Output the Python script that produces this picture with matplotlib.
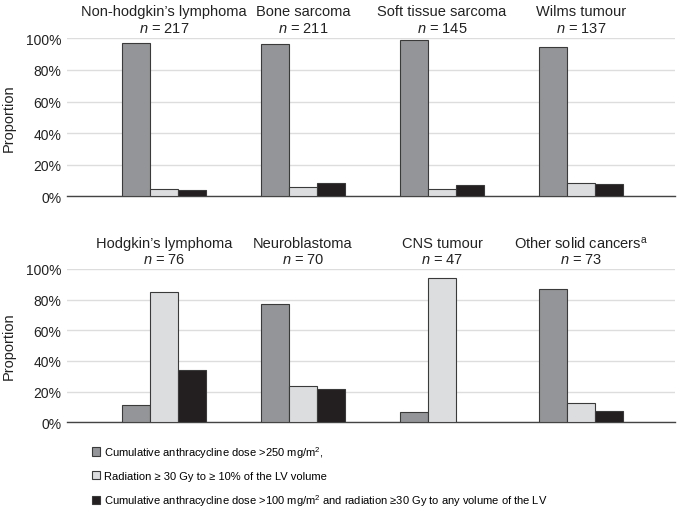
import numpy as np
import matplotlib.pyplot as plt
from matplotlib.patches import Patch

plt.rcParams['font.family'] = ['Liberation Sans', 'DejaVu Sans']
plt.rcParams['mathtext.fontset'] = 'custom'
plt.rcParams['mathtext.rm'] = 'Liberation Sans'
plt.rcParams['mathtext.it'] = 'Liberation Sans:italic'

## data (proportions in %)
top_groups = ["Non-hodgkin\u2019s lymphoma", "Bone sarcoma", "Soft tissue sarcoma", "Wilms tumour"]
top_n = [217, 211, 145, 137]
top_anthra = [97.0, 96.4, 98.9, 94.7]
top_rad = [4.4, 5.7, 4.4, 8.4]
top_both = [3.8, 8.4, 7.2, 7.8]

bot_groups = ["Hodgkin\u2019s lymphoma", "Neuroblastoma", "CNS tumour", "Other solid cancers$^{\\mathrm{a}}$"]
bot_n = [76, 70, 47, 73]
bot_anthra = [11.5, 77.4, 6.5, 86.7]
bot_rad = [84.8, 23.5, 93.9, 12.4]
bot_both = [34.3, 21.5, 0.0, 7.2]

legend_labels = [
    "Cumulative anthracycline dose >250 mg/m$^{2}$,",
    "Radiation \u2265 30 Gy to \u2265 10% of the LV volume",
    "Cumulative anthracycline dose >100 mg/m$^{2}$ and radiation \u226530 Gy to any volume of the LV",
]

colors = ["#939598", "#dcdddf", "#231f20"]
edge = "#3a3a3a"

fig = plt.figure(figsize=(6.78, 5.10), dpi=100)
ax_top = fig.add_axes([0.0988, 0.6131, 0.8968, 0.3098])
ax_bot = fig.add_axes([0.0988, 0.1700, 0.8968, 0.3006])

def panel(ax, groups, ns, series):
    x = np.arange(len(groups))
    w = 0.2
    for k, vals in enumerate(series):
        vals = np.array(vals)
        keep = vals > 0  ## no bar at all for a zero value
        ax.bar(x[keep] + (k - 1) * w, vals[keep] / 100, width=w, color=colors[k],
               edgecolor=edge, linewidth=0.8, zorder=3)
    ax.set_xlim(-0.698, 3.676)
    ax.set_ylim(0, 1.0)
    ax.set_yticks(np.arange(0, 1.01, 0.2))
    ax.set_yticklabels(["%d%%" % v for v in range(0, 101, 20)], fontsize=10, color="#222222")
    ax.set_xticks([])
    ax.tick_params(axis='y', length=0, pad=4)
    ax.yaxis.grid(True, color="#dddddd", linewidth=1.0, zorder=0)
    ax.set_axisbelow(True)
    for s in ["top", "right", "left"]:
        ax.spines[s].set_visible(False)
    ax.spines["bottom"].set_color("#444444")
    ax.spines["bottom"].set_linewidth(1.0)
    ax.set_ylabel("Proportion", fontsize=10.5, color="#222222", labelpad=7)
    for i, (g, n) in enumerate(zip(groups, ns)):
        ax.text(i, 1.17, g, ha='center', va='center', fontsize=10.5, color="#222222",
                transform=ax.get_xaxis_transform())
        ax.text(i, 1.065, "$\\it{n}$ = %d" % n, ha='center', va='center', fontsize=10.5,
                color="#222222", transform=ax.get_xaxis_transform())

panel(ax_top, top_groups, top_n, [top_anthra, top_rad, top_both])
panel(ax_bot, bot_groups, bot_n, [bot_anthra, bot_rad, bot_both])

handles = [Patch(facecolor=c, edgecolor=edge, linewidth=0.8) for c in colors]
fig.legend(handles, legend_labels, loc='upper left', bbox_to_anchor=(0.135, 0.128),
           frameon=False, fontsize=8, handlelength=0.8, handleheight=0.8,
           handletextpad=0.35, labelspacing=1.0, borderpad=0, borderaxespad=0)

fig.savefig("out.png", dpi=100)
